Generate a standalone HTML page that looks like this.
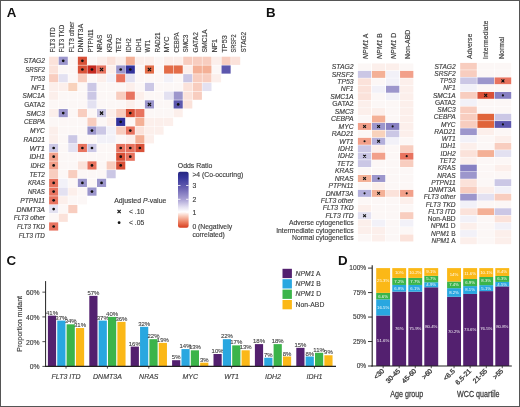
<!DOCTYPE html>
<html><head><meta charset="utf-8"><style>
html,body{margin:0;padding:0;background:#fff;}
body{width:520px;height:407px;overflow:hidden;position:relative;}
svg{position:absolute;left:0;top:0;display:block;will-change:transform;}
svg text[fill="#3d3d3d"]{stroke:#3d3d3d;stroke-width:0.15px;}
svg text[fill="#454545"]{stroke:#454545;stroke-width:0.12px;}
.frame{position:absolute;left:0;top:0;width:520px;height:407px;box-sizing:border-box;border:1px solid #555;}
</style></head><body>
<svg width="520" height="407" viewBox="0 0 520 407" font-family='"Liberation Sans", sans-serif'>

<rect x="49.10" y="56.70" width="9.10" height="8.20" fill="#fbe2da"/>
<rect x="58.68" y="56.70" width="9.10" height="8.20" fill="#9c96cc"/>
<circle cx="63.23" cy="60.80" r="1.35" fill="#111"/>
<rect x="68.26" y="56.70" width="9.10" height="8.20" fill="#fcf7f6"/>
<rect x="77.84" y="56.70" width="9.10" height="8.20" fill="#d95138"/>
<circle cx="82.39" cy="60.80" r="1.35" fill="#111"/>
<rect x="87.42" y="56.70" width="9.10" height="8.20" fill="#fcf7f6"/>
<rect x="97.00" y="56.70" width="9.10" height="8.20" fill="#fcefeb"/>
<rect x="106.58" y="56.70" width="9.10" height="8.20" fill="#fbe2da"/>
<rect x="116.16" y="56.70" width="9.10" height="8.20" fill="#fcefeb"/>
<rect x="125.74" y="56.70" width="9.10" height="8.20" fill="#f4b096"/>
<rect x="135.32" y="56.70" width="9.10" height="8.20" fill="#fcefeb"/>
<rect x="144.90" y="56.70" width="9.10" height="8.20" fill="#fcefeb"/>
<rect x="154.48" y="56.70" width="9.10" height="8.20" fill="#fcf7f6"/>
<rect x="164.06" y="56.70" width="9.10" height="8.20" fill="#fcefeb"/>
<rect x="173.64" y="56.70" width="9.10" height="8.20" fill="#fcefeb"/>
<rect x="183.22" y="56.70" width="9.10" height="8.20" fill="#f8cdbf"/>
<rect x="192.80" y="56.70" width="9.10" height="8.20" fill="#f8cdbf"/>
<rect x="202.38" y="56.70" width="9.10" height="8.20" fill="#f8cdbf"/>
<rect x="211.96" y="56.70" width="9.10" height="8.20" fill="#fcefeb"/>
<rect x="221.54" y="56.70" width="9.10" height="8.20" fill="#f8cdbf"/>
<rect x="231.12" y="56.70" width="9.10" height="8.20" fill="#fbe2da"/>
<rect x="49.10" y="65.42" width="9.10" height="8.20" fill="#fbe2da"/>
<rect x="58.68" y="65.42" width="9.10" height="8.20" fill="#fcf7f6"/>
<rect x="68.26" y="65.42" width="9.10" height="8.20" fill="#fcf7f6"/>
<rect x="77.84" y="65.42" width="9.10" height="8.20" fill="#d95138"/>
<circle cx="82.39" cy="69.52" r="1.35" fill="#111"/>
<rect x="87.42" y="65.42" width="9.10" height="8.20" fill="#c62a20"/>
<circle cx="91.97" cy="69.52" r="1.35" fill="#111"/>
<rect x="97.00" y="65.42" width="9.10" height="8.20" fill="#e8735f"/>
<path d="M99.95 67.92L103.15 71.12M103.15 67.92L99.95 71.12" stroke="#111" stroke-width="1.2"/>
<rect x="106.58" y="65.42" width="9.10" height="8.20" fill="#fcefeb"/>
<rect x="116.16" y="65.42" width="9.10" height="8.20" fill="#9c96cc"/>
<circle cx="120.71" cy="69.52" r="1.35" fill="#111"/>
<rect x="125.74" y="65.42" width="9.10" height="8.20" fill="#32329c"/>
<circle cx="130.29" cy="69.52" r="1.35" fill="#111"/>
<rect x="135.32" y="65.42" width="9.10" height="8.20" fill="#fcf7f6"/>
<rect x="144.90" y="65.42" width="9.10" height="8.20" fill="#e36c48"/>
<path d="M147.85 67.92L151.05 71.12M151.05 67.92L147.85 71.12" stroke="#111" stroke-width="1.2"/>
<rect x="154.48" y="65.42" width="9.10" height="8.20" fill="#fcf7f6"/>
<rect x="164.06" y="65.42" width="9.10" height="8.20" fill="#e36c48"/>
<rect x="173.64" y="65.42" width="9.10" height="8.20" fill="#e36c48"/>
<rect x="183.22" y="65.42" width="9.10" height="8.20" fill="#fcefeb"/>
<rect x="192.80" y="65.42" width="9.10" height="8.20" fill="#f4b096"/>
<rect x="202.38" y="65.42" width="9.10" height="8.20" fill="#f4b096"/>
<rect x="211.96" y="65.42" width="9.10" height="8.20" fill="#fcf7f6"/>
<rect x="221.54" y="65.42" width="9.10" height="8.20" fill="#5d57ad"/>
<rect x="49.10" y="74.14" width="9.10" height="8.20" fill="#f8cdbf"/>
<rect x="58.68" y="74.14" width="9.10" height="8.20" fill="#e3e1f1"/>
<rect x="68.26" y="74.14" width="9.10" height="8.20" fill="#fcf7f6"/>
<rect x="77.84" y="74.14" width="9.10" height="8.20" fill="#f8cdbf"/>
<rect x="87.42" y="74.14" width="9.10" height="8.20" fill="#fcf7f6"/>
<rect x="97.00" y="74.14" width="9.10" height="8.20" fill="#fcefeb"/>
<rect x="106.58" y="74.14" width="9.10" height="8.20" fill="#f2f1f8"/>
<rect x="116.16" y="74.14" width="9.10" height="8.20" fill="#e8735f"/>
<rect x="125.74" y="74.14" width="9.10" height="8.20" fill="#e3e1f1"/>
<rect x="135.32" y="74.14" width="9.10" height="8.20" fill="#fcf7f6"/>
<rect x="144.90" y="74.14" width="9.10" height="8.20" fill="#fcf7f6"/>
<rect x="154.48" y="74.14" width="9.10" height="8.20" fill="#fcf7f6"/>
<rect x="164.06" y="74.14" width="9.10" height="8.20" fill="#f2f1f8"/>
<rect x="173.64" y="74.14" width="9.10" height="8.20" fill="#fcf7f6"/>
<rect x="183.22" y="74.14" width="9.10" height="8.20" fill="#cbc7e5"/>
<rect x="192.80" y="74.14" width="9.10" height="8.20" fill="#f8cdbf"/>
<rect x="202.38" y="74.14" width="9.10" height="8.20" fill="#f8cdbf"/>
<rect x="211.96" y="74.14" width="9.10" height="8.20" fill="#fcefeb"/>
<rect x="49.10" y="82.86" width="9.10" height="8.20" fill="#fcefeb"/>
<rect x="58.68" y="82.86" width="9.10" height="8.20" fill="#fcefeb"/>
<rect x="68.26" y="82.86" width="9.10" height="8.20" fill="#f8d2bc"/>
<rect x="77.84" y="82.86" width="9.10" height="8.20" fill="#fcf7f6"/>
<rect x="87.42" y="82.86" width="9.10" height="8.20" fill="#cbc7e5"/>
<rect x="97.00" y="82.86" width="9.10" height="8.20" fill="#fcf7f6"/>
<rect x="106.58" y="82.86" width="9.10" height="8.20" fill="#fcf7f6"/>
<rect x="116.16" y="82.86" width="9.10" height="8.20" fill="#fcf7f6"/>
<rect x="125.74" y="82.86" width="9.10" height="8.20" fill="#fcefeb"/>
<rect x="135.32" y="82.86" width="9.10" height="8.20" fill="#fcf7f6"/>
<rect x="144.90" y="82.86" width="9.10" height="8.20" fill="#cbc7e5"/>
<rect x="154.48" y="82.86" width="9.10" height="8.20" fill="#fcf7f6"/>
<rect x="164.06" y="82.86" width="9.10" height="8.20" fill="#fcf7f6"/>
<rect x="173.64" y="82.86" width="9.10" height="8.20" fill="#fcf7f6"/>
<rect x="183.22" y="82.86" width="9.10" height="8.20" fill="#fbe2da"/>
<rect x="192.80" y="82.86" width="9.10" height="8.20" fill="#f8cdbf"/>
<rect x="202.38" y="82.86" width="9.10" height="8.20" fill="#e3e1f1"/>
<rect x="49.10" y="91.58" width="9.10" height="8.20" fill="#fcefeb"/>
<rect x="58.68" y="91.58" width="9.10" height="8.20" fill="#fcf7f6"/>
<rect x="68.26" y="91.58" width="9.10" height="8.20" fill="#fcf7f6"/>
<rect x="77.84" y="91.58" width="9.10" height="8.20" fill="#fcf7f6"/>
<rect x="87.42" y="91.58" width="9.10" height="8.20" fill="#cbc7e5"/>
<rect x="97.00" y="91.58" width="9.10" height="8.20" fill="#fcf7f6"/>
<rect x="106.58" y="91.58" width="9.10" height="8.20" fill="#fcf7f6"/>
<rect x="116.16" y="91.58" width="9.10" height="8.20" fill="#f8cdbf"/>
<rect x="125.74" y="91.58" width="9.10" height="8.20" fill="#e8735f"/>
<rect x="135.32" y="91.58" width="9.10" height="8.20" fill="#fcefeb"/>
<rect x="144.90" y="91.58" width="9.10" height="8.20" fill="#fcf7f6"/>
<rect x="154.48" y="91.58" width="9.10" height="8.20" fill="#fcf7f6"/>
<rect x="164.06" y="91.58" width="9.10" height="8.20" fill="#e3e1f1"/>
<rect x="173.64" y="91.58" width="9.10" height="8.20" fill="#9c96cc"/>
<rect x="183.22" y="91.58" width="9.10" height="8.20" fill="#fbe2da"/>
<rect x="192.80" y="91.58" width="9.10" height="8.20" fill="#f8cdbf"/>
<rect x="49.10" y="100.30" width="9.10" height="8.20" fill="#fcf7f6"/>
<rect x="58.68" y="100.30" width="9.10" height="8.20" fill="#fcf7f6"/>
<rect x="68.26" y="100.30" width="9.10" height="8.20" fill="#fcf7f6"/>
<rect x="77.84" y="100.30" width="9.10" height="8.20" fill="#fcf7f6"/>
<rect x="87.42" y="100.30" width="9.10" height="8.20" fill="#e3e1f1"/>
<rect x="97.00" y="100.30" width="9.10" height="8.20" fill="#fcf7f6"/>
<rect x="106.58" y="100.30" width="9.10" height="8.20" fill="#fcf7f6"/>
<rect x="116.16" y="100.30" width="9.10" height="8.20" fill="#fcf7f6"/>
<rect x="125.74" y="100.30" width="9.10" height="8.20" fill="#fcefeb"/>
<rect x="135.32" y="100.30" width="9.10" height="8.20" fill="#fcf7f6"/>
<rect x="144.90" y="100.30" width="9.10" height="8.20" fill="#9c96cc"/>
<path d="M147.85 102.80L151.05 106.00M151.05 102.80L147.85 106.00" stroke="#111" stroke-width="1.2"/>
<rect x="154.48" y="100.30" width="9.10" height="8.20" fill="#fcf7f6"/>
<rect x="164.06" y="100.30" width="9.10" height="8.20" fill="#fcf7f6"/>
<rect x="173.64" y="100.30" width="9.10" height="8.20" fill="#5d57ad"/>
<circle cx="178.19" cy="104.40" r="1.35" fill="#111"/>
<rect x="183.22" y="100.30" width="9.10" height="8.20" fill="#fbe2da"/>
<rect x="49.10" y="109.02" width="9.10" height="8.20" fill="#fcefeb"/>
<rect x="58.68" y="109.02" width="9.10" height="8.20" fill="#9c96cc"/>
<circle cx="63.23" cy="113.12" r="1.35" fill="#111"/>
<rect x="68.26" y="109.02" width="9.10" height="8.20" fill="#fcf7f6"/>
<rect x="77.84" y="109.02" width="9.10" height="8.20" fill="#f8cdbf"/>
<rect x="87.42" y="109.02" width="9.10" height="8.20" fill="#fcf7f6"/>
<rect x="97.00" y="109.02" width="9.10" height="8.20" fill="#cbc7e5"/>
<path d="M99.95 111.52L103.15 114.72M103.15 111.52L99.95 114.72" stroke="#111" stroke-width="1.2"/>
<rect x="106.58" y="109.02" width="9.10" height="8.20" fill="#fcefeb"/>
<rect x="116.16" y="109.02" width="9.10" height="8.20" fill="#f8cdbf"/>
<rect x="125.74" y="109.02" width="9.10" height="8.20" fill="#d95138"/>
<circle cx="130.29" cy="113.12" r="1.35" fill="#111"/>
<rect x="135.32" y="109.02" width="9.10" height="8.20" fill="#e8735f"/>
<rect x="144.90" y="109.02" width="9.10" height="8.20" fill="#fcf7f6"/>
<rect x="154.48" y="109.02" width="9.10" height="8.20" fill="#fcf7f6"/>
<rect x="164.06" y="109.02" width="9.10" height="8.20" fill="#fcf7f6"/>
<rect x="173.64" y="109.02" width="9.10" height="8.20" fill="#fcefeb"/>
<rect x="49.10" y="117.74" width="9.10" height="8.20" fill="#fcf7f6"/>
<rect x="58.68" y="117.74" width="9.10" height="8.20" fill="#fcf7f6"/>
<rect x="68.26" y="117.74" width="9.10" height="8.20" fill="#fcf7f6"/>
<rect x="77.84" y="117.74" width="9.10" height="8.20" fill="#fcf7f6"/>
<rect x="87.42" y="117.74" width="9.10" height="8.20" fill="#f8cdbf"/>
<rect x="97.00" y="117.74" width="9.10" height="8.20" fill="#fcf7f6"/>
<rect x="106.58" y="117.74" width="9.10" height="8.20" fill="#fcefeb"/>
<rect x="116.16" y="117.74" width="9.10" height="8.20" fill="#32329c"/>
<circle cx="120.71" cy="121.84" r="1.35" fill="#111"/>
<rect x="125.74" y="117.74" width="9.10" height="8.20" fill="#fcf7f6"/>
<rect x="135.32" y="117.74" width="9.10" height="8.20" fill="#f4b096"/>
<rect x="144.90" y="117.74" width="9.10" height="8.20" fill="#fcefeb"/>
<rect x="154.48" y="117.74" width="9.10" height="8.20" fill="#fcefeb"/>
<rect x="164.06" y="117.74" width="9.10" height="8.20" fill="#fcefeb"/>
<rect x="49.10" y="126.46" width="9.10" height="8.20" fill="#fcefeb"/>
<rect x="58.68" y="126.46" width="9.10" height="8.20" fill="#fcf7f6"/>
<rect x="68.26" y="126.46" width="9.10" height="8.20" fill="#fcf7f6"/>
<rect x="77.84" y="126.46" width="9.10" height="8.20" fill="#fcf7f6"/>
<rect x="87.42" y="126.46" width="9.10" height="8.20" fill="#9c96cc"/>
<circle cx="91.97" cy="130.56" r="1.35" fill="#111"/>
<rect x="97.00" y="126.46" width="9.10" height="8.20" fill="#cbc7e5"/>
<rect x="106.58" y="126.46" width="9.10" height="8.20" fill="#f2f1f8"/>
<rect x="116.16" y="126.46" width="9.10" height="8.20" fill="#f8cdbf"/>
<rect x="125.74" y="126.46" width="9.10" height="8.20" fill="#e8735f"/>
<circle cx="130.29" cy="130.56" r="1.35" fill="#111"/>
<rect x="135.32" y="126.46" width="9.10" height="8.20" fill="#fbe2da"/>
<rect x="144.90" y="126.46" width="9.10" height="8.20" fill="#fcefeb"/>
<rect x="154.48" y="126.46" width="9.10" height="8.20" fill="#fcefeb"/>
<rect x="49.10" y="135.18" width="9.10" height="8.20" fill="#fcefeb"/>
<rect x="58.68" y="135.18" width="9.10" height="8.20" fill="#fcf7f6"/>
<rect x="68.26" y="135.18" width="9.10" height="8.20" fill="#cbc7e5"/>
<rect x="77.84" y="135.18" width="9.10" height="8.20" fill="#fcf7f6"/>
<rect x="87.42" y="135.18" width="9.10" height="8.20" fill="#fcf7f6"/>
<rect x="97.00" y="135.18" width="9.10" height="8.20" fill="#f2f1f8"/>
<rect x="106.58" y="135.18" width="9.10" height="8.20" fill="#f2f1f8"/>
<rect x="116.16" y="135.18" width="9.10" height="8.20" fill="#fcf7f6"/>
<rect x="125.74" y="135.18" width="9.10" height="8.20" fill="#fcefeb"/>
<rect x="135.32" y="135.18" width="9.10" height="8.20" fill="#f4b096"/>
<rect x="144.90" y="135.18" width="9.10" height="8.20" fill="#fcefeb"/>
<rect x="49.10" y="143.90" width="9.10" height="8.20" fill="#cbc7e5"/>
<circle cx="53.65" cy="148.00" r="1.35" fill="#111"/>
<rect x="58.68" y="143.90" width="9.10" height="8.20" fill="#fcf7f6"/>
<rect x="68.26" y="143.90" width="9.10" height="8.20" fill="#e3e1f1"/>
<rect x="77.84" y="143.90" width="9.10" height="8.20" fill="#e8735f"/>
<circle cx="82.39" cy="148.00" r="1.35" fill="#111"/>
<rect x="87.42" y="143.90" width="9.10" height="8.20" fill="#cbc7e5"/>
<circle cx="91.97" cy="148.00" r="1.35" fill="#111"/>
<rect x="97.00" y="143.90" width="9.10" height="8.20" fill="#fcf7f6"/>
<rect x="106.58" y="143.90" width="9.10" height="8.20" fill="#fcf7f6"/>
<rect x="116.16" y="143.90" width="9.10" height="8.20" fill="#e8735f"/>
<circle cx="120.71" cy="148.00" r="1.35" fill="#111"/>
<rect x="125.74" y="143.90" width="9.10" height="8.20" fill="#e8735f"/>
<circle cx="130.29" cy="148.00" r="1.35" fill="#111"/>
<rect x="135.32" y="143.90" width="9.10" height="8.20" fill="#d95138"/>
<circle cx="139.87" cy="148.00" r="1.35" fill="#111"/>
<rect x="49.10" y="152.62" width="9.10" height="8.20" fill="#f2a08a"/>
<circle cx="53.65" cy="156.72" r="1.35" fill="#111"/>
<rect x="58.68" y="152.62" width="9.10" height="8.20" fill="#fcf7f6"/>
<rect x="68.26" y="152.62" width="9.10" height="8.20" fill="#fcf7f6"/>
<rect x="77.84" y="152.62" width="9.10" height="8.20" fill="#fcf7f6"/>
<rect x="87.42" y="152.62" width="9.10" height="8.20" fill="#fcf7f6"/>
<rect x="97.00" y="152.62" width="9.10" height="8.20" fill="#fcf7f6"/>
<rect x="106.58" y="152.62" width="9.10" height="8.20" fill="#fcf7f6"/>
<rect x="116.16" y="152.62" width="9.10" height="8.20" fill="#d95138"/>
<circle cx="120.71" cy="156.72" r="1.35" fill="#111"/>
<rect x="125.74" y="152.62" width="9.10" height="8.20" fill="#e8735f"/>
<circle cx="130.29" cy="156.72" r="1.35" fill="#111"/>
<rect x="49.10" y="161.34" width="9.10" height="8.20" fill="#f2a08a"/>
<circle cx="53.65" cy="165.44" r="1.35" fill="#111"/>
<rect x="58.68" y="161.34" width="9.10" height="8.20" fill="#fcf7f6"/>
<rect x="68.26" y="161.34" width="9.10" height="8.20" fill="#fcf7f6"/>
<rect x="77.84" y="161.34" width="9.10" height="8.20" fill="#fbe2da"/>
<rect x="87.42" y="161.34" width="9.10" height="8.20" fill="#e8735f"/>
<circle cx="91.97" cy="165.44" r="1.35" fill="#111"/>
<rect x="97.00" y="161.34" width="9.10" height="8.20" fill="#fcf7f6"/>
<rect x="106.58" y="161.34" width="9.10" height="8.20" fill="#f8cdbf"/>
<rect x="116.16" y="161.34" width="9.10" height="8.20" fill="#d95138"/>
<circle cx="120.71" cy="165.44" r="1.35" fill="#111"/>
<rect x="49.10" y="170.06" width="9.10" height="8.20" fill="#f8cdbf"/>
<rect x="58.68" y="170.06" width="9.10" height="8.20" fill="#fcf7f6"/>
<rect x="68.26" y="170.06" width="9.10" height="8.20" fill="#f8cdbf"/>
<rect x="77.84" y="170.06" width="9.10" height="8.20" fill="#fcf7f6"/>
<rect x="87.42" y="170.06" width="9.10" height="8.20" fill="#fcf7f6"/>
<rect x="97.00" y="170.06" width="9.10" height="8.20" fill="#fcf7f6"/>
<rect x="106.58" y="170.06" width="9.10" height="8.20" fill="#cbc7e5"/>
<rect x="49.10" y="178.78" width="9.10" height="8.20" fill="#e8735f"/>
<circle cx="53.65" cy="182.88" r="1.35" fill="#111"/>
<rect x="58.68" y="178.78" width="9.10" height="8.20" fill="#f2f1f8"/>
<rect x="68.26" y="178.78" width="9.10" height="8.20" fill="#fcf7f6"/>
<rect x="77.84" y="178.78" width="9.10" height="8.20" fill="#9c96cc"/>
<circle cx="82.39" cy="182.88" r="1.35" fill="#111"/>
<rect x="87.42" y="178.78" width="9.10" height="8.20" fill="#fcf7f6"/>
<rect x="97.00" y="178.78" width="9.10" height="8.20" fill="#9c96cc"/>
<circle cx="101.55" cy="182.88" r="1.35" fill="#111"/>
<rect x="49.10" y="187.50" width="9.10" height="8.20" fill="#e8735f"/>
<circle cx="53.65" cy="191.60" r="1.35" fill="#111"/>
<rect x="58.68" y="187.50" width="9.10" height="8.20" fill="#e3e1f1"/>
<rect x="68.26" y="187.50" width="9.10" height="8.20" fill="#fcefeb"/>
<rect x="77.84" y="187.50" width="9.10" height="8.20" fill="#fcf7f6"/>
<rect x="87.42" y="187.50" width="9.10" height="8.20" fill="#9c96cc"/>
<circle cx="91.97" cy="191.60" r="1.35" fill="#111"/>
<rect x="49.10" y="196.22" width="9.10" height="8.20" fill="#e8735f"/>
<circle cx="53.65" cy="200.32" r="1.35" fill="#111"/>
<rect x="58.68" y="196.22" width="9.10" height="8.20" fill="#fcefeb"/>
<rect x="68.26" y="196.22" width="9.10" height="8.20" fill="#fcf7f6"/>
<rect x="77.84" y="196.22" width="9.10" height="8.20" fill="#fcf7f6"/>
<rect x="49.10" y="204.94" width="9.10" height="8.20" fill="#e3e1f1"/>
<circle cx="53.65" cy="209.04" r="1.35" fill="#111"/>
<rect x="58.68" y="204.94" width="9.10" height="8.20" fill="#fcf7f6"/>
<rect x="68.26" y="204.94" width="9.10" height="8.20" fill="#f8cdbf"/>
<rect x="49.10" y="213.66" width="9.10" height="8.20" fill="#fcf7f6"/>
<rect x="58.68" y="213.66" width="9.10" height="8.20" fill="#fbe2da"/>
<rect x="49.10" y="222.38" width="9.10" height="8.20" fill="#e8735f"/>
<circle cx="53.65" cy="226.48" r="1.35" fill="#111"/>
<text transform="translate(44.9,63.40) scale(1.035,1)" text-anchor="end" font-style="italic" font-size="6.4" fill="#3d3d3d">STAG2</text>
<text transform="translate(44.9,72.12) scale(0.950,1)" text-anchor="end" font-style="italic" font-size="6.4" fill="#3d3d3d">SRSF2</text>
<text transform="translate(44.9,80.84) scale(0.973,1)" text-anchor="end" font-style="italic" font-size="6.4" fill="#3d3d3d">TP53</text>
<text transform="translate(44.9,89.56) scale(1.127,1)" text-anchor="end" font-style="italic" font-size="6.4" fill="#3d3d3d">NF1</text>
<text transform="translate(44.9,98.28) scale(1.014,1)" text-anchor="end" font-style="italic" font-size="6.4" fill="#3d3d3d">SMC1A</text>
<text transform="translate(44.9,107.00) scale(1.035,1)" text-anchor="end" font-size="6.4" fill="#3d3d3d">GATA2</text>
<text transform="translate(44.9,115.72) scale(1.053,1)" text-anchor="end" font-style="italic" font-size="6.4" fill="#3d3d3d">SMC3</text>
<text transform="translate(44.9,124.44) scale(0.986,1)" text-anchor="end" font-style="italic" font-size="6.4" fill="#3d3d3d">CEBPA</text>
<text transform="translate(44.9,133.16) scale(1.043,1)" text-anchor="end" font-style="italic" font-size="6.4" fill="#3d3d3d">MYC</text>
<text transform="translate(44.9,141.88) scale(1.035,1)" text-anchor="end" font-style="italic" font-size="6.4" fill="#3d3d3d">RAD21</text>
<text transform="translate(44.9,150.60) scale(1.150,1)" text-anchor="end" font-style="italic" font-size="6.4" fill="#3d3d3d">WT1</text>
<text transform="translate(44.9,159.32) scale(1.064,1)" text-anchor="end" font-style="italic" font-size="6.4" fill="#3d3d3d">IDH1</text>
<text transform="translate(44.9,168.04) scale(0.993,1)" text-anchor="end" font-style="italic" font-size="6.4" fill="#3d3d3d">IDH2</text>
<text transform="translate(44.9,176.76) scale(0.993,1)" text-anchor="end" font-style="italic" font-size="6.4" fill="#3d3d3d">TET2</text>
<text transform="translate(44.9,185.48) scale(0.976,1)" text-anchor="end" font-style="italic" font-size="6.4" fill="#3d3d3d">KRAS</text>
<text transform="translate(44.9,194.20) scale(0.956,1)" text-anchor="end" font-style="italic" font-size="6.4" fill="#3d3d3d">NRAS</text>
<text transform="translate(44.9,202.92) scale(1.043,1)" text-anchor="end" font-style="italic" font-size="6.4" fill="#3d3d3d">PTPN11</text>
<text transform="translate(44.9,211.64) scale(1.077,1)" text-anchor="end" font-style="italic" font-size="6.4" fill="#3d3d3d">DNMT3A</text>
<text transform="translate(44.9,220.36) scale(1.013,1)" text-anchor="end" font-style="italic" font-size="6.4" fill="#3d3d3d">FLT3 other</text>
<text transform="translate(44.9,229.08) scale(0.966,1)" text-anchor="end" font-style="italic" font-size="6.4" fill="#3d3d3d">FLT3 TKD</text>
<text transform="translate(44.9,237.80) scale(0.988,1)" text-anchor="end" font-style="italic" font-size="6.4" fill="#3d3d3d">FLT3 ITD</text>
<text transform="translate(54.60,52.6) rotate(-90) scale(0.972,1)" font-size="6.3" fill="#3d3d3d">FLT3 ITD</text>
<text transform="translate(64.16,52.6) rotate(-90) scale(0.975,1)" font-size="6.3" fill="#3d3d3d">FLT3 TKD</text>
<text transform="translate(73.71,52.6) rotate(-90) scale(1.023,1)" font-size="6.3" fill="#3d3d3d">FLT3 other</text>
<text transform="translate(83.27,52.6) rotate(-90) scale(1.112,1)" font-size="6.3" fill="#3d3d3d">DNMT3A</text>
<text transform="translate(92.82,52.6) rotate(-90) scale(0.996,1)" font-size="6.3" fill="#3d3d3d">PTPN11</text>
<text transform="translate(102.37,52.6) rotate(-90) scale(1.030,1)" font-size="6.3" fill="#3d3d3d">NRAS</text>
<text transform="translate(111.93,52.6) rotate(-90) scale(1.094,1)" font-size="6.3" fill="#3d3d3d">KRAS</text>
<text transform="translate(121.48,52.6) rotate(-90) scale(0.967,1)" font-size="6.3" fill="#3d3d3d">TET2</text>
<text transform="translate(131.04,52.6) rotate(-90) scale(1.000,1)" font-size="6.3" fill="#3d3d3d">IDH2</text>
<text transform="translate(140.60,52.6) rotate(-90) scale(1.000,1)" font-size="6.3" fill="#3d3d3d">IDH1</text>
<text transform="translate(150.15,52.6) rotate(-90) scale(0.969,1)" font-size="6.3" fill="#3d3d3d">WT1</text>
<text transform="translate(159.70,52.6) rotate(-90) scale(0.995,1)" font-size="6.3" fill="#3d3d3d">RAD21</text>
<text transform="translate(169.26,52.6) rotate(-90) scale(1.154,1)" font-size="6.3" fill="#3d3d3d">MYC</text>
<text transform="translate(178.81,52.6) rotate(-90) scale(0.971,1)" font-size="6.3" fill="#3d3d3d">CEBPA</text>
<text transform="translate(188.37,52.6) rotate(-90) scale(1.030,1)" font-size="6.3" fill="#3d3d3d">SMC3</text>
<text transform="translate(197.93,52.6) rotate(-90) scale(1.040,1)" font-size="6.3" fill="#3d3d3d">GATA2</text>
<text transform="translate(207.48,52.6) rotate(-90) scale(1.071,1)" font-size="6.3" fill="#3d3d3d">SMC1A</text>
<text transform="translate(217.04,52.6) rotate(-90) scale(1.155,1)" font-size="6.3" fill="#3d3d3d">NF1</text>
<text transform="translate(226.59,52.6) rotate(-90) scale(1.157,1)" font-size="6.3" fill="#3d3d3d">TP53</text>
<text transform="translate(236.14,52.6) rotate(-90) scale(0.895,1)" font-size="6.3" fill="#3d3d3d">SRSF2</text>
<text transform="translate(245.70,52.6) rotate(-90) scale(1.030,1)" font-size="6.3" fill="#3d3d3d">STAG2</text>
<text x="177.8" y="167.8" font-size="6.9" fill="#3d3d3d">Odds Ratio</text>
<defs><linearGradient id="cb" x1="0" y1="0" x2="0" y2="1"><stop offset="0" stop-color="#262680"/><stop offset="0.1" stop-color="#34349a"/><stop offset="0.3" stop-color="#6c64b4"/><stop offset="0.5" stop-color="#aca4d6"/><stop offset="0.63" stop-color="#e4e0f2"/><stop offset="0.715" stop-color="#ffffff"/><stop offset="0.8" stop-color="#f8c4b2"/><stop offset="0.9" stop-color="#ec7e60"/><stop offset="1" stop-color="#d63c1e"/></linearGradient></defs>
<rect x="178" y="171.8" width="10.6" height="56" rx="2" fill="url(#cb)"/>
<line x1="178" y1="185.5" x2="180.5" y2="185.5" stroke="#fff" stroke-width="0.8"/>
<line x1="186.1" y1="185.5" x2="188.6" y2="185.5" stroke="#fff" stroke-width="0.8"/>
<line x1="178" y1="199.3" x2="180.5" y2="199.3" stroke="#fff" stroke-width="0.8"/>
<line x1="186.1" y1="199.3" x2="188.6" y2="199.3" stroke="#fff" stroke-width="0.8"/>
<line x1="178" y1="212.6" x2="180.5" y2="212.6" stroke="#fff" stroke-width="0.8"/>
<line x1="186.1" y1="212.6" x2="188.6" y2="212.6" stroke="#fff" stroke-width="0.8"/>
<text x="192.4" y="176.50" font-size="6.8" fill="#3d3d3d">&gt;4 (Co-occuring)</text>
<text x="192.4" y="187.90" font-size="6.8" fill="#3d3d3d">3</text>
<text x="192.4" y="201.70" font-size="6.8" fill="#3d3d3d">2</text>
<text x="192.4" y="215.00" font-size="6.8" fill="#3d3d3d">1</text>
<text x="192.4" y="228.80" font-size="6.8" fill="#3d3d3d">0 (Negatively</text>
<text x="192.4" y="236.70" font-size="6.8" fill="#3d3d3d">correlated)</text>
<text x="114.2" y="202.8" font-size="6.9" fill="#3d3d3d">Adjusted <tspan font-style="italic">P</tspan>-value</text>
<path d="M117.5 209.9L120.69999999999999 213.1M120.69999999999999 209.9L117.5 213.1" stroke="#111" stroke-width="1.2"/>
<circle cx="119.1" cy="222.7" r="1.4" fill="#111"/>
<text x="129" y="213.9" font-size="6.8" fill="#3d3d3d">&lt; .10</text>
<text x="129" y="225.1" font-size="6.8" fill="#3d3d3d">&lt; .05</text>
<rect x="357.90" y="63.45" width="13.30" height="6.95" fill="#fcf7f6"/>
<rect x="371.95" y="63.45" width="13.30" height="6.95" fill="#fcefeb"/>
<rect x="386.00" y="63.45" width="13.30" height="6.95" fill="#fcefeb"/>
<rect x="400.05" y="63.45" width="13.30" height="6.95" fill="#fcf7f6"/>
<rect x="357.90" y="70.89" width="13.30" height="6.95" fill="#cbc7e5"/>
<rect x="371.95" y="70.89" width="13.30" height="6.95" fill="#f4b096"/>
<rect x="386.00" y="70.89" width="13.30" height="6.95" fill="#f2f1f8"/>
<rect x="400.05" y="70.89" width="13.30" height="6.95" fill="#f2a08a"/>
<rect x="357.90" y="78.32" width="13.30" height="6.95" fill="#fbe2da"/>
<rect x="371.95" y="78.32" width="13.30" height="6.95" fill="#fcf7f6"/>
<rect x="386.00" y="78.32" width="13.30" height="6.95" fill="#f2f1f8"/>
<rect x="400.05" y="78.32" width="13.30" height="6.95" fill="#fcefeb"/>
<rect x="357.90" y="85.76" width="13.30" height="6.95" fill="#fbe2da"/>
<rect x="371.95" y="85.76" width="13.30" height="6.95" fill="#f2f1f8"/>
<rect x="386.00" y="85.76" width="13.30" height="6.95" fill="#9c96cc"/>
<rect x="400.05" y="85.76" width="13.30" height="6.95" fill="#fcefeb"/>
<rect x="357.90" y="93.20" width="13.30" height="6.95" fill="#fbe2da"/>
<rect x="371.95" y="93.20" width="13.30" height="6.95" fill="#fcf7f6"/>
<rect x="386.00" y="93.20" width="13.30" height="6.95" fill="#f2f1f8"/>
<rect x="400.05" y="93.20" width="13.30" height="6.95" fill="#fcefeb"/>
<rect x="357.90" y="100.64" width="13.30" height="6.95" fill="#fcefeb"/>
<rect x="371.95" y="100.64" width="13.30" height="6.95" fill="#fcf7f6"/>
<rect x="386.00" y="100.64" width="13.30" height="6.95" fill="#fcf7f6"/>
<rect x="400.05" y="100.64" width="13.30" height="6.95" fill="#fcefeb"/>
<rect x="357.90" y="108.07" width="13.30" height="6.95" fill="#fcefeb"/>
<rect x="371.95" y="108.07" width="13.30" height="6.95" fill="#fcefeb"/>
<rect x="386.00" y="108.07" width="13.30" height="6.95" fill="#fcf7f6"/>
<rect x="400.05" y="108.07" width="13.30" height="6.95" fill="#fcefeb"/>
<rect x="357.90" y="115.51" width="13.30" height="6.95" fill="#fcf7f6"/>
<rect x="371.95" y="115.51" width="13.30" height="6.95" fill="#f4b096"/>
<rect x="386.00" y="115.51" width="13.30" height="6.95" fill="#fcf7f6"/>
<rect x="400.05" y="115.51" width="13.30" height="6.95" fill="#fcefeb"/>
<rect x="357.90" y="122.95" width="13.30" height="6.95" fill="#f2a08a"/>
<path d="M363.15 125.02L365.95 127.82M365.95 125.02L363.15 127.82" stroke="#111" stroke-width="1.05"/>
<rect x="371.95" y="122.95" width="13.30" height="6.95" fill="#9c96cc"/>
<path d="M377.20 125.02L380.00 127.82M380.00 125.02L377.20 127.82" stroke="#111" stroke-width="1.05"/>
<rect x="386.00" y="122.95" width="13.30" height="6.95" fill="#8780c2"/>
<circle cx="392.65" cy="126.42" r="1.05" fill="#111"/>
<rect x="400.05" y="122.95" width="13.30" height="6.95" fill="#fcefeb"/>
<rect x="357.90" y="130.38" width="13.30" height="6.95" fill="#fcf7f6"/>
<rect x="371.95" y="130.38" width="13.30" height="6.95" fill="#f8d2bc"/>
<rect x="386.00" y="130.38" width="13.30" height="6.95" fill="#cbc7e5"/>
<rect x="400.05" y="130.38" width="13.30" height="6.95" fill="#fcefeb"/>
<rect x="357.90" y="137.82" width="13.30" height="6.95" fill="#f2a08a"/>
<circle cx="364.55" cy="141.29" r="1.05" fill="#111"/>
<rect x="371.95" y="137.82" width="13.30" height="6.95" fill="#b3afdb"/>
<path d="M377.20 139.89L380.00 142.69M380.00 139.89L377.20 142.69" stroke="#111" stroke-width="1.05"/>
<rect x="386.00" y="137.82" width="13.30" height="6.95" fill="#f2f1f8"/>
<rect x="400.05" y="137.82" width="13.30" height="6.95" fill="#fcf7f6"/>
<rect x="357.90" y="145.26" width="13.30" height="6.95" fill="#cbc7e5"/>
<rect x="371.95" y="145.26" width="13.30" height="6.95" fill="#fcefeb"/>
<rect x="386.00" y="145.26" width="13.30" height="6.95" fill="#fcf7f6"/>
<rect x="400.05" y="145.26" width="13.30" height="6.95" fill="#f8cdbf"/>
<rect x="357.90" y="152.69" width="13.30" height="6.95" fill="#cbc7e5"/>
<path d="M363.15 154.77L365.95 157.57M365.95 154.77L363.15 157.57" stroke="#111" stroke-width="1.05"/>
<rect x="371.95" y="152.69" width="13.30" height="6.95" fill="#f2a08a"/>
<rect x="386.00" y="152.69" width="13.30" height="6.95" fill="#fcf7f6"/>
<rect x="400.05" y="152.69" width="13.30" height="6.95" fill="#e8735f"/>
<circle cx="406.70" cy="156.17" r="1.05" fill="#111"/>
<rect x="357.90" y="160.13" width="13.30" height="6.95" fill="#cbc7e5"/>
<rect x="371.95" y="160.13" width="13.30" height="6.95" fill="#fcf7f6"/>
<rect x="386.00" y="160.13" width="13.30" height="6.95" fill="#fcf7f6"/>
<rect x="400.05" y="160.13" width="13.30" height="6.95" fill="#f8cdbf"/>
<rect x="357.90" y="167.57" width="13.30" height="6.95" fill="#fcf7f6"/>
<rect x="371.95" y="167.57" width="13.30" height="6.95" fill="#fcf7f6"/>
<rect x="386.00" y="167.57" width="13.30" height="6.95" fill="#fcf7f6"/>
<rect x="400.05" y="167.57" width="13.30" height="6.95" fill="#fcf7f6"/>
<rect x="357.90" y="175.00" width="13.30" height="6.95" fill="#f4b096"/>
<path d="M363.15 177.08L365.95 179.88M365.95 177.08L363.15 179.88" stroke="#111" stroke-width="1.05"/>
<rect x="371.95" y="175.00" width="13.30" height="6.95" fill="#9c96cc"/>
<circle cx="378.60" cy="178.48" r="1.05" fill="#111"/>
<rect x="386.00" y="175.00" width="13.30" height="6.95" fill="#fcf7f6"/>
<rect x="400.05" y="175.00" width="13.30" height="6.95" fill="#fcf7f6"/>
<rect x="357.90" y="182.44" width="13.30" height="6.95" fill="#fcf7f6"/>
<rect x="371.95" y="182.44" width="13.30" height="6.95" fill="#fcefeb"/>
<rect x="386.00" y="182.44" width="13.30" height="6.95" fill="#fcf7f6"/>
<rect x="400.05" y="182.44" width="13.30" height="6.95" fill="#fcf7f6"/>
<rect x="357.90" y="189.88" width="13.30" height="6.95" fill="#b3afdb"/>
<circle cx="364.55" cy="193.35" r="1.05" fill="#111"/>
<rect x="371.95" y="189.88" width="13.30" height="6.95" fill="#f4b096"/>
<path d="M377.20 191.95L380.00 194.75M380.00 191.95L377.20 194.75" stroke="#111" stroke-width="1.05"/>
<rect x="386.00" y="189.88" width="13.30" height="6.95" fill="#fbe2da"/>
<rect x="400.05" y="189.88" width="13.30" height="6.95" fill="#f2a08a"/>
<circle cx="406.70" cy="193.35" r="1.05" fill="#111"/>
<rect x="357.90" y="197.32" width="13.30" height="6.95" fill="#fcf7f6"/>
<rect x="371.95" y="197.32" width="13.30" height="6.95" fill="#fcf7f6"/>
<rect x="386.00" y="197.32" width="13.30" height="6.95" fill="#fcf7f6"/>
<rect x="400.05" y="197.32" width="13.30" height="6.95" fill="#fcefeb"/>
<rect x="357.90" y="204.75" width="13.30" height="6.95" fill="#fcefeb"/>
<rect x="371.95" y="204.75" width="13.30" height="6.95" fill="#fcf7f6"/>
<rect x="386.00" y="204.75" width="13.30" height="6.95" fill="#fcf7f6"/>
<rect x="400.05" y="204.75" width="13.30" height="6.95" fill="#fcf7f6"/>
<rect x="357.90" y="212.19" width="13.30" height="6.95" fill="#e3e1f1"/>
<path d="M363.15 214.26L365.95 217.06M365.95 214.26L363.15 217.06" stroke="#111" stroke-width="1.05"/>
<rect x="371.95" y="212.19" width="13.30" height="6.95" fill="#fcf7f6"/>
<rect x="386.00" y="212.19" width="13.30" height="6.95" fill="#fcf7f6"/>
<rect x="400.05" y="212.19" width="13.30" height="6.95" fill="#f8cdbf"/>
<rect x="357.90" y="219.63" width="13.30" height="6.95" fill="#fcefeb"/>
<rect x="371.95" y="219.63" width="13.30" height="6.95" fill="#f2f1f8"/>
<rect x="386.00" y="219.63" width="13.30" height="6.95" fill="#fcf7f6"/>
<rect x="400.05" y="219.63" width="13.30" height="6.95" fill="#f2f1f8"/>
<rect x="357.90" y="227.06" width="13.30" height="6.95" fill="#fcefeb"/>
<rect x="371.95" y="227.06" width="13.30" height="6.95" fill="#fcefeb"/>
<rect x="386.00" y="227.06" width="13.30" height="6.95" fill="#fcf7f6"/>
<rect x="400.05" y="227.06" width="13.30" height="6.95" fill="#fcf7f6"/>
<rect x="357.90" y="234.50" width="13.30" height="6.95" fill="#fcf7f6"/>
<rect x="371.95" y="234.50" width="13.30" height="6.95" fill="#fcefeb"/>
<rect x="386.00" y="234.50" width="13.30" height="6.95" fill="#fcf7f6"/>
<rect x="400.05" y="234.50" width="13.30" height="6.95" fill="#fbe2da"/>
<text x="353.6" y="69.10" text-anchor="end" font-style="italic" font-size="6.8" fill="#3d3d3d">STAG2</text>
<text x="353.6" y="76.54" text-anchor="end" font-style="italic" font-size="6.8" fill="#3d3d3d">SRSF2</text>
<text x="353.6" y="83.98" text-anchor="end" font-style="italic" font-size="6.8" fill="#3d3d3d">TP53</text>
<text x="353.6" y="91.42" text-anchor="end" font-style="italic" font-size="6.8" fill="#3d3d3d">NF1</text>
<text x="353.6" y="98.86" text-anchor="end" font-style="italic" font-size="6.8" fill="#3d3d3d">SMC1A</text>
<text x="353.6" y="106.30" text-anchor="end" font-size="6.8" fill="#3d3d3d">GATA2</text>
<text x="353.6" y="113.74" text-anchor="end" font-style="italic" font-size="6.8" fill="#3d3d3d">SMC3</text>
<text x="353.6" y="121.18" text-anchor="end" font-style="italic" font-size="6.8" fill="#3d3d3d">CEBPA</text>
<text x="353.6" y="128.62" text-anchor="end" font-style="italic" font-size="6.8" fill="#3d3d3d">MYC</text>
<text x="353.6" y="136.06" text-anchor="end" font-style="italic" font-size="6.8" fill="#3d3d3d">RAD21</text>
<text x="353.6" y="143.50" text-anchor="end" font-style="italic" font-size="6.8" fill="#3d3d3d">WT1</text>
<text x="353.6" y="150.94" text-anchor="end" font-style="italic" font-size="6.8" fill="#3d3d3d">IDH1</text>
<text x="353.6" y="158.38" text-anchor="end" font-style="italic" font-size="6.8" fill="#3d3d3d">IDH2</text>
<text x="353.6" y="165.82" text-anchor="end" font-style="italic" font-size="6.8" fill="#3d3d3d">TET2</text>
<text x="353.6" y="173.26" text-anchor="end" font-style="italic" font-size="6.8" fill="#3d3d3d">KRAS</text>
<text x="353.6" y="180.70" text-anchor="end" font-style="italic" font-size="6.8" fill="#3d3d3d">NRAS</text>
<text x="353.6" y="188.14" text-anchor="end" font-style="italic" font-size="6.8" fill="#3d3d3d">PTPN11</text>
<text x="353.6" y="195.58" text-anchor="end" font-style="italic" font-size="6.8" fill="#3d3d3d">DNMT3A</text>
<text x="353.6" y="203.02" text-anchor="end" font-style="italic" font-size="6.8" fill="#3d3d3d">FLT3 other</text>
<text x="353.6" y="210.46" text-anchor="end" font-style="italic" font-size="6.8" fill="#3d3d3d">FLT3 TKD</text>
<text x="353.6" y="217.90" text-anchor="end" font-style="italic" font-size="6.8" fill="#3d3d3d">FLT3 ITD</text>
<text x="353.6" y="225.34" text-anchor="end" font-size="6.8" fill="#3d3d3d">Adverse cytogenetics</text>
<text x="353.6" y="232.78" text-anchor="end" font-size="6.8" fill="#3d3d3d">Intermediate cytogenetics</text>
<text x="353.6" y="240.22" text-anchor="end" font-size="6.8" fill="#3d3d3d">Normal cytogenetics</text>
<text transform="translate(367.80,58.9) rotate(-90)" font-size="6.9" fill="#3d3d3d"><tspan font-style="italic">NPM1</tspan> A</text>
<text transform="translate(381.85,58.9) rotate(-90)" font-size="6.9" fill="#3d3d3d"><tspan font-style="italic">NPM1</tspan> B</text>
<text transform="translate(395.90,58.9) rotate(-90)" font-size="6.9" fill="#3d3d3d"><tspan font-style="italic">NPM1</tspan> D</text>
<text transform="translate(409.95,58.9) rotate(-90)" font-size="6.9" fill="#3d3d3d">Non-ABD</text>
<rect x="460.20" y="62.90" width="16.60" height="6.80" fill="#f8cdbf"/>
<rect x="477.40" y="62.90" width="16.60" height="6.80" fill="#fcf7f6"/>
<rect x="494.60" y="62.90" width="16.60" height="6.80" fill="#fcf7f6"/>
<rect x="460.20" y="70.17" width="16.60" height="6.80" fill="#f8cdbf"/>
<rect x="477.40" y="70.17" width="16.60" height="6.80" fill="#fcf7f6"/>
<rect x="494.60" y="70.17" width="16.60" height="6.80" fill="#fcf7f6"/>
<rect x="460.20" y="77.44" width="16.60" height="6.80" fill="#cbc7e5"/>
<rect x="477.40" y="77.44" width="16.60" height="6.80" fill="#9c96cc"/>
<rect x="494.60" y="77.44" width="16.60" height="6.80" fill="#e8735f"/>
<path d="M501.45 79.39L504.35 82.29M504.35 79.39L501.45 82.29" stroke="#111" stroke-width="1.1"/>
<rect x="460.20" y="84.71" width="16.60" height="6.80" fill="#f2f1f8"/>
<rect x="477.40" y="84.71" width="16.60" height="6.80" fill="#fcf7f6"/>
<rect x="494.60" y="84.71" width="16.60" height="6.80" fill="#fcf7f6"/>
<rect x="460.20" y="91.98" width="16.60" height="6.80" fill="#f8cdbf"/>
<rect x="477.40" y="91.98" width="16.60" height="6.80" fill="#d95138"/>
<path d="M484.25 93.93L487.15 96.83M487.15 93.93L484.25 96.83" stroke="#111" stroke-width="1.1"/>
<rect x="494.60" y="91.98" width="16.60" height="6.80" fill="#8780c2"/>
<circle cx="502.90" cy="95.38" r="1.1" fill="#111"/>
<rect x="460.20" y="99.25" width="16.60" height="6.80" fill="#f2f1f8"/>
<rect x="477.40" y="99.25" width="16.60" height="6.80" fill="#fcf7f6"/>
<rect x="494.60" y="99.25" width="16.60" height="6.80" fill="#fcf7f6"/>
<rect x="460.20" y="106.52" width="16.60" height="6.80" fill="#f8cdbf"/>
<rect x="477.40" y="106.52" width="16.60" height="6.80" fill="#fcf7f6"/>
<rect x="494.60" y="106.52" width="16.60" height="6.80" fill="#fcf7f6"/>
<rect x="460.20" y="113.79" width="16.60" height="6.80" fill="#f8cdbf"/>
<rect x="477.40" y="113.79" width="16.60" height="6.80" fill="#e0643a"/>
<rect x="494.60" y="113.79" width="16.60" height="6.80" fill="#cbc7e5"/>
<rect x="460.20" y="121.06" width="16.60" height="6.80" fill="#f8cdbf"/>
<rect x="477.40" y="121.06" width="16.60" height="6.80" fill="#e0643a"/>
<rect x="494.60" y="121.06" width="16.60" height="6.80" fill="#5d57ad"/>
<circle cx="502.90" cy="124.46" r="1.1" fill="#111"/>
<rect x="460.20" y="128.33" width="16.60" height="6.80" fill="#9c96cc"/>
<rect x="477.40" y="128.33" width="16.60" height="6.80" fill="#fcefeb"/>
<rect x="494.60" y="128.33" width="16.60" height="6.80" fill="#fcf7f6"/>
<rect x="460.20" y="135.60" width="16.60" height="6.80" fill="#f2f1f8"/>
<rect x="477.40" y="135.60" width="16.60" height="6.80" fill="#fcf7f6"/>
<rect x="494.60" y="135.60" width="16.60" height="6.80" fill="#fcefeb"/>
<rect x="460.20" y="142.87" width="16.60" height="6.80" fill="#fcefeb"/>
<rect x="477.40" y="142.87" width="16.60" height="6.80" fill="#fcf7f6"/>
<rect x="494.60" y="142.87" width="16.60" height="6.80" fill="#f8cdbf"/>
<rect x="460.20" y="150.14" width="16.60" height="6.80" fill="#fbe2da"/>
<rect x="477.40" y="150.14" width="16.60" height="6.80" fill="#f4b096"/>
<rect x="494.60" y="150.14" width="16.60" height="6.80" fill="#e3e1f1"/>
<rect x="460.20" y="157.41" width="16.60" height="6.80" fill="#fcefeb"/>
<rect x="477.40" y="157.41" width="16.60" height="6.80" fill="#fcf7f6"/>
<rect x="494.60" y="157.41" width="16.60" height="6.80" fill="#fcf7f6"/>
<rect x="460.20" y="164.68" width="16.60" height="6.80" fill="#8780c2"/>
<rect x="477.40" y="164.68" width="16.60" height="6.80" fill="#fcf7f6"/>
<rect x="494.60" y="164.68" width="16.60" height="6.80" fill="#fcefeb"/>
<rect x="460.20" y="171.95" width="16.60" height="6.80" fill="#9c96cc"/>
<rect x="477.40" y="171.95" width="16.60" height="6.80" fill="#fcf7f6"/>
<rect x="494.60" y="171.95" width="16.60" height="6.80" fill="#fcf7f6"/>
<rect x="460.20" y="179.22" width="16.60" height="6.80" fill="#fbe2da"/>
<rect x="477.40" y="179.22" width="16.60" height="6.80" fill="#fcf7f6"/>
<rect x="494.60" y="179.22" width="16.60" height="6.80" fill="#cbc7e5"/>
<rect x="460.20" y="186.49" width="16.60" height="6.80" fill="#f8cdbf"/>
<rect x="477.40" y="186.49" width="16.60" height="6.80" fill="#fcefeb"/>
<rect x="494.60" y="186.49" width="16.60" height="6.80" fill="#f2f1f8"/>
<rect x="460.20" y="193.76" width="16.60" height="6.80" fill="#9c96cc"/>
<rect x="477.40" y="193.76" width="16.60" height="6.80" fill="#e3e1f1"/>
<rect x="494.60" y="193.76" width="16.60" height="6.80" fill="#f8cdbf"/>
<rect x="460.20" y="201.03" width="16.60" height="6.80" fill="#f2f1f8"/>
<rect x="477.40" y="201.03" width="16.60" height="6.80" fill="#fcf7f6"/>
<rect x="494.60" y="201.03" width="16.60" height="6.80" fill="#fcf7f6"/>
<rect x="460.20" y="208.30" width="16.60" height="6.80" fill="#fbe2da"/>
<rect x="477.40" y="208.30" width="16.60" height="6.80" fill="#f4b096"/>
<rect x="494.60" y="208.30" width="16.60" height="6.80" fill="#cbc7e5"/>
<rect x="460.20" y="215.57" width="16.60" height="6.80" fill="#f2f1f8"/>
<rect x="477.40" y="215.57" width="16.60" height="6.80" fill="#fcf7f6"/>
<rect x="494.60" y="215.57" width="16.60" height="6.80" fill="#fbe2da"/>
<rect x="460.20" y="222.84" width="16.60" height="6.80" fill="#fcefeb"/>
<rect x="477.40" y="222.84" width="16.60" height="6.80" fill="#fcf7f6"/>
<rect x="494.60" y="222.84" width="16.60" height="6.80" fill="#f2f1f8"/>
<rect x="460.20" y="230.11" width="16.60" height="6.80" fill="#f2f1f8"/>
<rect x="477.40" y="230.11" width="16.60" height="6.80" fill="#fcf7f6"/>
<rect x="494.60" y="230.11" width="16.60" height="6.80" fill="#fcefeb"/>
<rect x="460.20" y="237.38" width="16.60" height="6.80" fill="#fcefeb"/>
<rect x="477.40" y="237.38" width="16.60" height="6.80" fill="#fcf7f6"/>
<rect x="494.60" y="237.38" width="16.60" height="6.80" fill="#fcefeb"/>
<text x="455.6" y="68.50" text-anchor="end" font-style="italic" font-size="6.6" fill="#3d3d3d">STAG2</text>
<text x="455.6" y="75.77" text-anchor="end" font-style="italic" font-size="6.6" fill="#3d3d3d">SRSF2</text>
<text x="455.6" y="83.04" text-anchor="end" font-style="italic" font-size="6.6" fill="#3d3d3d">TP53</text>
<text x="455.6" y="90.31" text-anchor="end" font-style="italic" font-size="6.6" fill="#3d3d3d">NF1</text>
<text x="455.6" y="97.58" text-anchor="end" font-style="italic" font-size="6.6" fill="#3d3d3d">SMC1A</text>
<text x="455.6" y="104.85" text-anchor="end" font-size="6.6" fill="#3d3d3d">GATA2</text>
<text x="455.6" y="112.12" text-anchor="end" font-style="italic" font-size="6.6" fill="#3d3d3d">SMC3</text>
<text x="455.6" y="119.39" text-anchor="end" font-style="italic" font-size="6.6" fill="#3d3d3d">CEBPA</text>
<text x="455.6" y="126.66" text-anchor="end" font-style="italic" font-size="6.6" fill="#3d3d3d">MYC</text>
<text x="455.6" y="133.93" text-anchor="end" font-style="italic" font-size="6.6" fill="#3d3d3d">RAD21</text>
<text x="455.6" y="141.20" text-anchor="end" font-style="italic" font-size="6.6" fill="#3d3d3d">WT1</text>
<text x="455.6" y="148.47" text-anchor="end" font-style="italic" font-size="6.6" fill="#3d3d3d">IDH1</text>
<text x="455.6" y="155.74" text-anchor="end" font-style="italic" font-size="6.6" fill="#3d3d3d">IDH2</text>
<text x="455.6" y="163.01" text-anchor="end" font-style="italic" font-size="6.6" fill="#3d3d3d">TET2</text>
<text x="455.6" y="170.28" text-anchor="end" font-style="italic" font-size="6.6" fill="#3d3d3d">KRAS</text>
<text x="455.6" y="177.55" text-anchor="end" font-style="italic" font-size="6.6" fill="#3d3d3d">NRAS</text>
<text x="455.6" y="184.82" text-anchor="end" font-style="italic" font-size="6.6" fill="#3d3d3d">PTPN11</text>
<text x="455.6" y="192.09" text-anchor="end" font-style="italic" font-size="6.6" fill="#3d3d3d">DNMT3A</text>
<text x="455.6" y="199.36" text-anchor="end" font-style="italic" font-size="6.6" fill="#3d3d3d">FLT3 other</text>
<text x="455.6" y="206.63" text-anchor="end" font-style="italic" font-size="6.6" fill="#3d3d3d">FLT3 TKD</text>
<text x="455.6" y="213.90" text-anchor="end" font-style="italic" font-size="6.6" fill="#3d3d3d">FLT3 ITD</text>
<text x="455.6" y="221.17" text-anchor="end" font-size="6.6" fill="#3d3d3d">Non-ABD</text>
<text x="455.6" y="228.44" text-anchor="end" font-size="6.6" fill="#3d3d3d"><tspan font-style="italic">NPM1</tspan> D</text>
<text x="455.6" y="235.71" text-anchor="end" font-size="6.6" fill="#3d3d3d"><tspan font-style="italic">NPM1</tspan> B</text>
<text x="455.6" y="242.98" text-anchor="end" font-size="6.6" fill="#3d3d3d"><tspan font-style="italic">NPM1</tspan> A</text>
<text transform="translate(471.50,58.9) rotate(-90)" font-size="6.9" fill="#3d3d3d">Adverse</text>
<text transform="translate(487.70,58.9) rotate(-90)" font-size="6.9" fill="#3d3d3d">Intermediate</text>
<text transform="translate(503.90,58.9) rotate(-90)" font-size="6.9" fill="#3d3d3d">Normal</text>
<rect x="47.90" y="315.66" width="8.2" height="50.74" fill="#53206f"/>
<text x="52.00" y="314.76" text-anchor="middle" font-size="6.0" fill="#454545">41%</text>
<rect x="57.25" y="320.61" width="8.2" height="45.79" fill="#29a7e0"/>
<text x="61.35" y="319.71" text-anchor="middle" font-size="6.0" fill="#454545">37%</text>
<rect x="66.60" y="324.32" width="8.2" height="42.08" fill="#3bb44a"/>
<text x="70.70" y="323.43" text-anchor="middle" font-size="6.0" fill="#454545">34%</text>
<rect x="75.95" y="328.04" width="8.2" height="38.36" fill="#fbb817"/>
<text x="80.05" y="327.14" text-anchor="middle" font-size="6.0" fill="#454545">31%</text>
<line x1="66.03" y1="366.4" x2="66.03" y2="368.59999999999997" stroke="#222" stroke-width="0.8"/>
<text x="66.03" y="379.00" text-anchor="middle" font-style="italic" font-size="7.0" fill="#3d3d3d">FLT3 ITD</text>
<rect x="89.30" y="295.86" width="8.2" height="70.54" fill="#53206f"/>
<text x="93.40" y="294.96" text-anchor="middle" font-size="6.0" fill="#454545">57%</text>
<rect x="98.65" y="320.61" width="8.2" height="45.79" fill="#29a7e0"/>
<text x="102.75" y="319.71" text-anchor="middle" font-size="6.0" fill="#454545">37%</text>
<rect x="108.00" y="316.90" width="8.2" height="49.50" fill="#3bb44a"/>
<text x="112.10" y="316.00" text-anchor="middle" font-size="6.0" fill="#454545">40%</text>
<rect x="117.35" y="321.85" width="8.2" height="44.55" fill="#fbb817"/>
<text x="121.45" y="320.95" text-anchor="middle" font-size="6.0" fill="#454545">36%</text>
<line x1="107.42" y1="366.4" x2="107.42" y2="368.59999999999997" stroke="#222" stroke-width="0.8"/>
<text x="107.42" y="379.00" text-anchor="middle" font-style="italic" font-size="7.0" fill="#3d3d3d">DNMT3A</text>
<rect x="130.70" y="346.60" width="8.2" height="19.80" fill="#53206f"/>
<text x="134.80" y="345.70" text-anchor="middle" font-size="6.0" fill="#454545">16%</text>
<rect x="140.05" y="326.80" width="8.2" height="39.60" fill="#29a7e0"/>
<text x="144.15" y="325.90" text-anchor="middle" font-size="6.0" fill="#454545">32%</text>
<rect x="149.40" y="339.17" width="8.2" height="27.23" fill="#3bb44a"/>
<text x="153.50" y="338.27" text-anchor="middle" font-size="6.0" fill="#454545">22%</text>
<rect x="158.75" y="342.89" width="8.2" height="23.51" fill="#fbb817"/>
<text x="162.85" y="341.99" text-anchor="middle" font-size="6.0" fill="#454545">19%</text>
<line x1="148.82" y1="366.4" x2="148.82" y2="368.59999999999997" stroke="#222" stroke-width="0.8"/>
<text x="148.82" y="379.00" text-anchor="middle" font-style="italic" font-size="7.0" fill="#3d3d3d">NRAS</text>
<rect x="172.10" y="360.21" width="8.2" height="6.19" fill="#53206f"/>
<text x="176.20" y="359.31" text-anchor="middle" font-size="6.0" fill="#454545">5%</text>
<rect x="181.45" y="349.07" width="8.2" height="17.32" fill="#29a7e0"/>
<text x="185.55" y="348.18" text-anchor="middle" font-size="6.0" fill="#454545">14%</text>
<rect x="190.80" y="350.31" width="8.2" height="16.09" fill="#3bb44a"/>
<text x="194.90" y="349.41" text-anchor="middle" font-size="6.0" fill="#454545">13%</text>
<rect x="200.15" y="362.69" width="8.2" height="3.71" fill="#fbb817"/>
<text x="204.25" y="361.79" text-anchor="middle" font-size="6.0" fill="#454545">3%</text>
<line x1="190.22" y1="366.4" x2="190.22" y2="368.59999999999997" stroke="#222" stroke-width="0.8"/>
<text x="190.22" y="379.00" text-anchor="middle" font-style="italic" font-size="7.0" fill="#3d3d3d">MYC</text>
<rect x="213.50" y="354.02" width="8.2" height="12.38" fill="#53206f"/>
<text x="217.60" y="353.12" text-anchor="middle" font-size="6.0" fill="#454545">10%</text>
<rect x="222.85" y="339.17" width="8.2" height="27.23" fill="#29a7e0"/>
<text x="226.95" y="338.27" text-anchor="middle" font-size="6.0" fill="#454545">22%</text>
<rect x="232.20" y="345.36" width="8.2" height="21.04" fill="#3bb44a"/>
<text x="236.30" y="344.46" text-anchor="middle" font-size="6.0" fill="#454545">17%</text>
<rect x="241.55" y="350.31" width="8.2" height="16.09" fill="#fbb817"/>
<text x="245.65" y="349.41" text-anchor="middle" font-size="6.0" fill="#454545">13%</text>
<line x1="231.62" y1="366.4" x2="231.62" y2="368.59999999999997" stroke="#222" stroke-width="0.8"/>
<text x="231.62" y="379.00" text-anchor="middle" font-style="italic" font-size="7.0" fill="#3d3d3d">WT1</text>
<rect x="254.90" y="344.12" width="8.2" height="22.28" fill="#53206f"/>
<text x="259.00" y="343.23" text-anchor="middle" font-size="6.0" fill="#454545">18%</text>
<rect x="264.25" y="357.74" width="8.2" height="8.66" fill="#29a7e0"/>
<text x="268.35" y="356.84" text-anchor="middle" font-size="6.0" fill="#454545">7%</text>
<rect x="273.60" y="344.12" width="8.2" height="22.28" fill="#3bb44a"/>
<text x="277.70" y="343.23" text-anchor="middle" font-size="6.0" fill="#454545">18%</text>
<rect x="282.95" y="356.50" width="8.2" height="9.90" fill="#fbb817"/>
<text x="287.05" y="355.60" text-anchor="middle" font-size="6.0" fill="#454545">8%</text>
<line x1="273.02" y1="366.4" x2="273.02" y2="368.59999999999997" stroke="#222" stroke-width="0.8"/>
<text x="273.02" y="379.00" text-anchor="middle" font-style="italic" font-size="7.0" fill="#3d3d3d">IDH2</text>
<rect x="296.30" y="347.84" width="8.2" height="18.56" fill="#53206f"/>
<text x="300.40" y="346.94" text-anchor="middle" font-size="6.0" fill="#454545">15%</text>
<rect x="305.65" y="356.50" width="8.2" height="9.90" fill="#29a7e0"/>
<text x="309.75" y="355.60" text-anchor="middle" font-size="6.0" fill="#454545">8%</text>
<rect x="315.00" y="352.79" width="8.2" height="13.61" fill="#3bb44a"/>
<text x="319.10" y="351.89" text-anchor="middle" font-size="6.0" fill="#454545">11%</text>
<rect x="324.35" y="355.26" width="8.2" height="11.14" fill="#fbb817"/>
<text x="328.45" y="354.36" text-anchor="middle" font-size="6.0" fill="#454545">9%</text>
<line x1="314.42" y1="366.4" x2="314.42" y2="368.59999999999997" stroke="#222" stroke-width="0.8"/>
<text x="314.42" y="379.00" text-anchor="middle" font-style="italic" font-size="7.0" fill="#3d3d3d">IDH1</text>
<line x1="45.6" y1="281.1" x2="45.6" y2="366.9" stroke="#222" stroke-width="1"/>
<line x1="45.1" y1="366.4" x2="336" y2="366.4" stroke="#222" stroke-width="1.1"/>
<line x1="42.4" y1="366.40" x2="45.6" y2="366.40" stroke="#222" stroke-width="0.8"/>
<text x="39.6" y="369.40" text-anchor="end" font-size="6.8" fill="#3d3d3d">0%</text>
<line x1="42.4" y1="341.65" x2="45.6" y2="341.65" stroke="#222" stroke-width="0.8"/>
<text x="39.6" y="344.65" text-anchor="end" font-size="6.8" fill="#3d3d3d">20%</text>
<line x1="42.4" y1="316.90" x2="45.6" y2="316.90" stroke="#222" stroke-width="0.8"/>
<text x="39.6" y="319.90" text-anchor="end" font-size="6.8" fill="#3d3d3d">40%</text>
<line x1="42.4" y1="292.15" x2="45.6" y2="292.15" stroke="#222" stroke-width="0.8"/>
<text x="39.6" y="295.15" text-anchor="end" font-size="6.8" fill="#3d3d3d">60%</text>
<text transform="translate(21.8,323.8) rotate(-90)" text-anchor="middle" font-size="7.0" fill="#3d3d3d">Proportion mutant</text>
<rect x="282.5" y="268.80" width="9.4" height="9.3" fill="#53206f"/>
<text x="295.6" y="275.60" font-size="6.8" fill="#3d3d3d"><tspan font-style="italic">NPM1</tspan> A</text>
<rect x="282.5" y="279.20" width="9.4" height="9.3" fill="#29a7e0"/>
<text x="295.6" y="286.00" font-size="6.8" fill="#3d3d3d"><tspan font-style="italic">NPM1</tspan> B</text>
<rect x="282.5" y="289.60" width="9.4" height="9.3" fill="#3bb44a"/>
<text x="295.6" y="296.40" font-size="6.8" fill="#3d3d3d"><tspan font-style="italic">NPM1</tspan> D</text>
<rect x="282.5" y="300.00" width="9.4" height="9.3" fill="#fbb817"/>
<text x="295.6" y="306.80" font-size="6.8" fill="#3d3d3d">Non-ABD</text>
<rect x="376.20" y="315.48" width="13.9" height="50.52" fill="#53206f"/>
<rect x="376.20" y="299.33" width="13.9" height="16.15" fill="#29a7e0"/>
<rect x="376.20" y="292.87" width="13.9" height="6.46" fill="#3bb44a"/>
<rect x="376.20" y="268.10" width="13.9" height="24.77" fill="#fbb817"/>
<text x="383.15" y="342.14" text-anchor="middle" font-size="4.3" fill="#fff" fill-opacity="0.95">51.6%</text>
<text x="383.15" y="308.81" text-anchor="middle" font-size="4.3" fill="#fff" fill-opacity="0.95">16.5%</text>
<text x="383.15" y="297.50" text-anchor="middle" font-size="4.3" fill="#fff" fill-opacity="0.95">6.6%</text>
<text x="383.15" y="281.88" text-anchor="middle" font-size="4.3" fill="#fff" fill-opacity="0.95">25.3%</text>
<line x1="383.15" y1="366.0" x2="383.15" y2="368.2" stroke="#222" stroke-width="0.8"/>
<text transform="translate(384.65,371.50) rotate(-45)" text-anchor="end" font-size="6.8" fill="#3d3d3d" style="stroke-width:0.32px">&lt;30</text>
<rect x="392.25" y="291.60" width="13.9" height="74.40" fill="#53206f"/>
<rect x="392.25" y="284.94" width="13.9" height="6.66" fill="#29a7e0"/>
<rect x="392.25" y="277.89" width="13.9" height="7.05" fill="#3bb44a"/>
<rect x="392.25" y="268.10" width="13.9" height="9.79" fill="#fbb817"/>
<text x="399.20" y="330.20" text-anchor="middle" font-size="4.3" fill="#fff" fill-opacity="0.95">76%</text>
<text x="399.20" y="289.67" text-anchor="middle" font-size="4.3" fill="#fff" fill-opacity="0.95">6.8%</text>
<text x="399.20" y="282.81" text-anchor="middle" font-size="4.3" fill="#fff" fill-opacity="0.95">7.2%</text>
<text x="399.20" y="274.40" text-anchor="middle" font-size="4.3" fill="#fff" fill-opacity="0.95">10%</text>
<line x1="399.20" y1="366.0" x2="399.20" y2="368.2" stroke="#222" stroke-width="0.8"/>
<text transform="translate(400.70,371.50) rotate(-45)" text-anchor="end" font-size="6.8" fill="#3d3d3d" style="stroke-width:0.32px">30-45</text>
<rect x="408.30" y="291.69" width="13.9" height="74.31" fill="#53206f"/>
<rect x="408.30" y="284.94" width="13.9" height="6.76" fill="#29a7e0"/>
<rect x="408.30" y="277.89" width="13.9" height="7.05" fill="#3bb44a"/>
<rect x="408.30" y="268.10" width="13.9" height="9.79" fill="#fbb817"/>
<text x="415.25" y="330.25" text-anchor="middle" font-size="4.3" fill="#fff" fill-opacity="0.95">75.9%</text>
<text x="415.25" y="289.72" text-anchor="middle" font-size="4.3" fill="#fff" fill-opacity="0.95">6.1%</text>
<text x="415.25" y="282.81" text-anchor="middle" font-size="4.3" fill="#fff" fill-opacity="0.95">7.7%</text>
<text x="415.25" y="274.40" text-anchor="middle" font-size="4.3" fill="#fff" fill-opacity="0.95">10.2%</text>
<line x1="415.25" y1="366.0" x2="415.25" y2="368.2" stroke="#222" stroke-width="0.8"/>
<text transform="translate(416.75,371.50) rotate(-45)" text-anchor="end" font-size="6.8" fill="#3d3d3d" style="stroke-width:0.32px">45-60</text>
<rect x="424.30" y="287.29" width="13.9" height="78.71" fill="#53206f"/>
<rect x="424.30" y="282.30" width="13.9" height="4.99" fill="#29a7e0"/>
<rect x="424.30" y="275.83" width="13.9" height="6.46" fill="#3bb44a"/>
<rect x="424.30" y="268.10" width="13.9" height="7.73" fill="#fbb817"/>
<text x="431.25" y="328.04" text-anchor="middle" font-size="4.3" fill="#fff" fill-opacity="0.95">80.4%</text>
<text x="431.25" y="286.19" text-anchor="middle" font-size="4.3" fill="#fff" fill-opacity="0.95">4.9%</text>
<text x="431.25" y="280.46" text-anchor="middle" font-size="4.3" fill="#fff" fill-opacity="0.95">5.7%</text>
<text x="431.25" y="273.37" text-anchor="middle" font-size="4.3" fill="#fff" fill-opacity="0.95">9.1%</text>
<line x1="431.25" y1="366.0" x2="431.25" y2="368.2" stroke="#222" stroke-width="0.8"/>
<text transform="translate(432.75,371.50) rotate(-45)" text-anchor="end" font-size="6.8" fill="#3d3d3d" style="stroke-width:0.32px">&gt;60</text>
<rect x="447.10" y="296.78" width="13.9" height="69.22" fill="#53206f"/>
<rect x="447.10" y="288.17" width="13.9" height="8.62" fill="#29a7e0"/>
<rect x="447.10" y="281.51" width="13.9" height="6.66" fill="#3bb44a"/>
<rect x="447.10" y="268.10" width="13.9" height="13.41" fill="#fbb817"/>
<text x="454.05" y="332.79" text-anchor="middle" font-size="4.3" fill="#fff" fill-opacity="0.95">70.2%</text>
<text x="454.05" y="293.88" text-anchor="middle" font-size="4.3" fill="#fff" fill-opacity="0.95">8.2%</text>
<text x="454.05" y="286.24" text-anchor="middle" font-size="4.3" fill="#fff" fill-opacity="0.95">7.4%</text>
<text x="454.05" y="276.21" text-anchor="middle" font-size="4.3" fill="#fff" fill-opacity="0.95">14%</text>
<line x1="454.05" y1="366.0" x2="454.05" y2="368.2" stroke="#222" stroke-width="0.8"/>
<text transform="translate(455.55,371.50) rotate(-45)" text-anchor="end" font-size="6.8" fill="#3d3d3d" style="stroke-width:0.32px">&lt;6.5</text>
<rect x="463.20" y="293.95" width="13.9" height="72.05" fill="#53206f"/>
<rect x="463.20" y="286.11" width="13.9" height="7.83" fill="#29a7e0"/>
<rect x="463.20" y="278.97" width="13.9" height="7.15" fill="#3bb44a"/>
<rect x="463.20" y="268.10" width="13.9" height="10.87" fill="#fbb817"/>
<text x="470.15" y="331.37" text-anchor="middle" font-size="4.3" fill="#fff" fill-opacity="0.95">73.6%</text>
<text x="470.15" y="291.43" text-anchor="middle" font-size="4.3" fill="#fff" fill-opacity="0.95">8.1%</text>
<text x="470.15" y="283.94" text-anchor="middle" font-size="4.3" fill="#fff" fill-opacity="0.95">6.9%</text>
<text x="470.15" y="274.93" text-anchor="middle" font-size="4.3" fill="#fff" fill-opacity="0.95">11.6%</text>
<line x1="470.15" y1="366.0" x2="470.15" y2="368.2" stroke="#222" stroke-width="0.8"/>
<text transform="translate(471.65,371.50) rotate(-45)" text-anchor="end" font-size="6.8" fill="#3d3d3d" style="stroke-width:0.32px">6.5-21</text>
<rect x="479.30" y="291.11" width="13.9" height="74.89" fill="#53206f"/>
<rect x="479.30" y="285.13" width="13.9" height="5.97" fill="#29a7e0"/>
<rect x="479.30" y="277.01" width="13.9" height="8.13" fill="#3bb44a"/>
<rect x="479.30" y="268.10" width="13.9" height="8.91" fill="#fbb817"/>
<text x="486.25" y="329.95" text-anchor="middle" font-size="4.3" fill="#fff" fill-opacity="0.95">76.5%</text>
<text x="486.25" y="289.52" text-anchor="middle" font-size="4.3" fill="#fff" fill-opacity="0.95">5.1%</text>
<text x="486.25" y="282.47" text-anchor="middle" font-size="4.3" fill="#fff" fill-opacity="0.95">8.3%</text>
<text x="486.25" y="273.95" text-anchor="middle" font-size="4.3" fill="#fff" fill-opacity="0.95">10.1%</text>
<line x1="486.25" y1="366.0" x2="486.25" y2="368.2" stroke="#222" stroke-width="0.8"/>
<text transform="translate(487.75,371.50) rotate(-45)" text-anchor="end" font-size="6.8" fill="#3d3d3d" style="stroke-width:0.32px">21-55</text>
<rect x="495.30" y="286.41" width="13.9" height="79.59" fill="#53206f"/>
<rect x="495.30" y="281.90" width="13.9" height="4.50" fill="#29a7e0"/>
<rect x="495.30" y="275.93" width="13.9" height="5.97" fill="#3bb44a"/>
<rect x="495.30" y="268.10" width="13.9" height="7.83" fill="#fbb817"/>
<text x="502.25" y="327.60" text-anchor="middle" font-size="4.3" fill="#fff" fill-opacity="0.95">80.8%</text>
<text x="502.25" y="285.56" text-anchor="middle" font-size="4.3" fill="#fff" fill-opacity="0.95">4.5%</text>
<text x="502.25" y="280.32" text-anchor="middle" font-size="4.3" fill="#fff" fill-opacity="0.95">6.3%</text>
<text x="502.25" y="273.42" text-anchor="middle" font-size="4.3" fill="#fff" fill-opacity="0.95">8.4%</text>
<line x1="502.25" y1="366.0" x2="502.25" y2="368.2" stroke="#222" stroke-width="0.8"/>
<text transform="translate(503.75,371.50) rotate(-45)" text-anchor="end" font-size="6.8" fill="#3d3d3d" style="stroke-width:0.32px">&gt;55</text>
<line x1="372.2" y1="265.3" x2="372.2" y2="366.5" stroke="#222" stroke-width="1.1"/>
<line x1="371.4" y1="366.0" x2="511.8" y2="366.0" stroke="#222" stroke-width="1.1"/>
<line x1="368.0" y1="366.00" x2="372.2" y2="366.00" stroke="#222" stroke-width="0.9"/>
<text x="366.2" y="368.30" text-anchor="end" font-size="6.6" fill="#3d3d3d">0%</text>
<line x1="368.0" y1="341.52" x2="372.2" y2="341.52" stroke="#222" stroke-width="0.9"/>
<text x="366.2" y="343.82" text-anchor="end" font-size="6.6" fill="#3d3d3d">25%</text>
<line x1="368.0" y1="317.05" x2="372.2" y2="317.05" stroke="#222" stroke-width="0.9"/>
<text x="366.2" y="319.35" text-anchor="end" font-size="6.6" fill="#3d3d3d">50%</text>
<line x1="368.0" y1="292.57" x2="372.2" y2="292.57" stroke="#222" stroke-width="0.9"/>
<text x="366.2" y="294.88" text-anchor="end" font-size="6.6" fill="#3d3d3d">75%</text>
<line x1="368.0" y1="268.10" x2="372.2" y2="268.10" stroke="#222" stroke-width="0.9"/>
<text x="366.2" y="270.40" text-anchor="end" font-size="6.6" fill="#3d3d3d">100%</text>
<text transform="translate(406.8,397.4) scale(0.86,1)" text-anchor="middle" font-size="8.3" fill="#3d3d3d" style="stroke-width:0.25px">Age group</text>
<text transform="translate(478.3,397.4) scale(0.86,1)" text-anchor="middle" font-size="8.3" fill="#3d3d3d" style="stroke-width:0.25px">WCC quartile</text>
<text transform="translate(6.8,17.1) scale(1.12,1)" font-weight="bold" font-size="11.9" fill="#111">A</text>
<text transform="translate(265.9,17.1) scale(1.12,1)" font-weight="bold" font-size="11.9" fill="#111">B</text>
<text transform="translate(6.5,264.8) scale(1.12,1)" font-weight="bold" font-size="11.9" fill="#111">C</text>
<text transform="translate(338.1,264.7) scale(1.12,1)" font-weight="bold" font-size="11.9" fill="#111">D</text>
</svg>
<div class="frame"></div>
</body></html>
